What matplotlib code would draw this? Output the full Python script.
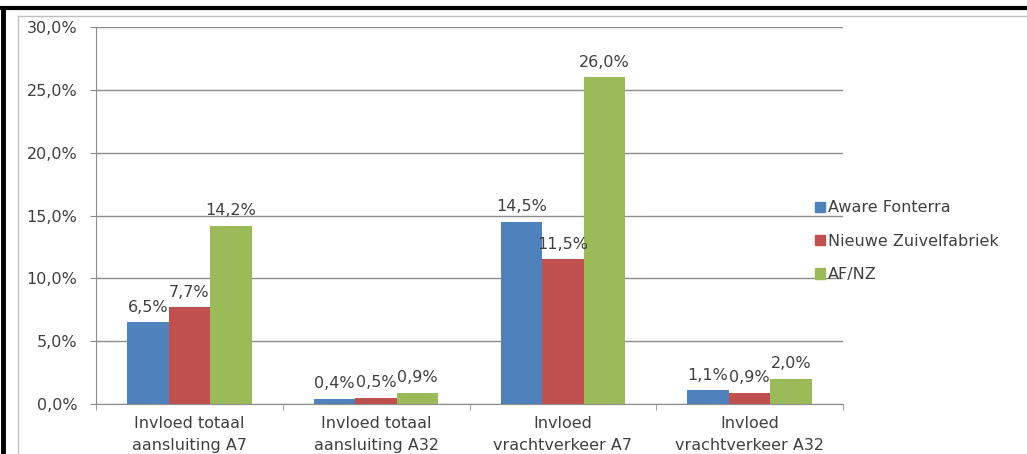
import numpy as np
import matplotlib.pyplot as plt
from matplotlib.lines import Line2D
from matplotlib.patches import Patch

categories = ["Invloed totaal\naansluiting A7", "Invloed totaal\naansluiting A32",
              "Invloed\nvrachtverkeer A7", "Invloed\nvrachtverkeer A32"]
series = ["Aware Fonterra", "Nieuwe Zuivelfabriek", "AF/NZ"]
aware = [6.5, 0.4, 14.5, 1.1]
nieuwe = [7.7, 0.5, 11.5, 0.9]
afnz = [14.2, 0.9, 26.0, 2.0]
colors = ["#4F81BD", "#C0504D", "#9BBB59"]

plt.rcParams['font.family'] = ['DejaVu Sans']
txtcol = "#404040"
fs = 11.5

fig = plt.figure(figsize=(10.27, 4.54), dpi=100)
W, H = 1027, 454
ax = fig.add_axes([96 / W, (H - 404) / H, 747 / W, 377 / H])

x = np.arange(len(categories))
bw = 0.222
for i, (vals, c) in enumerate(zip([aware, nieuwe, afnz], colors)):
    pos = x + (i - 1) * bw
    ax.bar(pos, vals, bw, color=c, label=series[i], zorder=2)
    for p, v in zip(pos, vals):
        ax.text(p, v + 0.6, f"{v:.1f}%".replace(".", ","), ha="center", va="bottom",
                fontsize=fs, color=txtcol)

ax.set_xlim(-0.5, 3.5)
ax.set_ylim(0, 30)
ax.set_yticks(np.arange(0, 31, 5))
ax.set_yticklabels([f"{v:.1f}%".replace(".", ",") for v in np.arange(0, 31, 5)],
                   fontsize=fs, color=txtcol)
ax.yaxis.grid(True, color="#8c8c8c", linewidth=1)
ax.set_axisbelow(True)
ax.tick_params(axis="y", length=4.3, color="#8c8c8c", pad=9)

ax.set_xticks(x)
ax.set_xticklabels(categories, fontsize=fs, color=txtcol, linespacing=1.55)
ax.set_xticks(np.arange(-0.5, 4, 1), minor=True)
ax.tick_params(axis="x", which="major", length=0, pad=9)
ax.tick_params(axis="x", which="minor", length=4.3, color="#8c8c8c")

for s in ["top", "right"]:
    ax.spines[s].set_visible(False)
for s in ["left", "bottom"]:
    ax.spines[s].set_color("#8c8c8c")

handles = [Patch(color=c) for c in colors]
fig.legend(handles, series, loc="upper left", bbox_to_anchor=(801 / W, 1 - 186 / H),
           frameon=False, fontsize=fs, handlelength=0.6, handleheight=0.6,
           handletextpad=0.2, labelspacing=1.15, labelcolor=txtcol)

# outer chart frame
fig.add_artist(Line2D([18 / W, 18 / W], [0, 1 - 16 / H], color="#bfbfbf", lw=1))
fig.add_artist(Line2D([18 / W, 1], [1 - 16 / H, 1 - 16 / H], color="#bfbfbf", lw=1))
fig.add_artist(Line2D([2.5 / W, 2.5 / W], [0, 1 - 7.5 / H], color="black", lw=3.5))
fig.add_artist(Line2D([0, 1], [1 - 7.5 / H, 1 - 7.5 / H], color="black", lw=3))

fig.savefig("out.png", dpi=100)
